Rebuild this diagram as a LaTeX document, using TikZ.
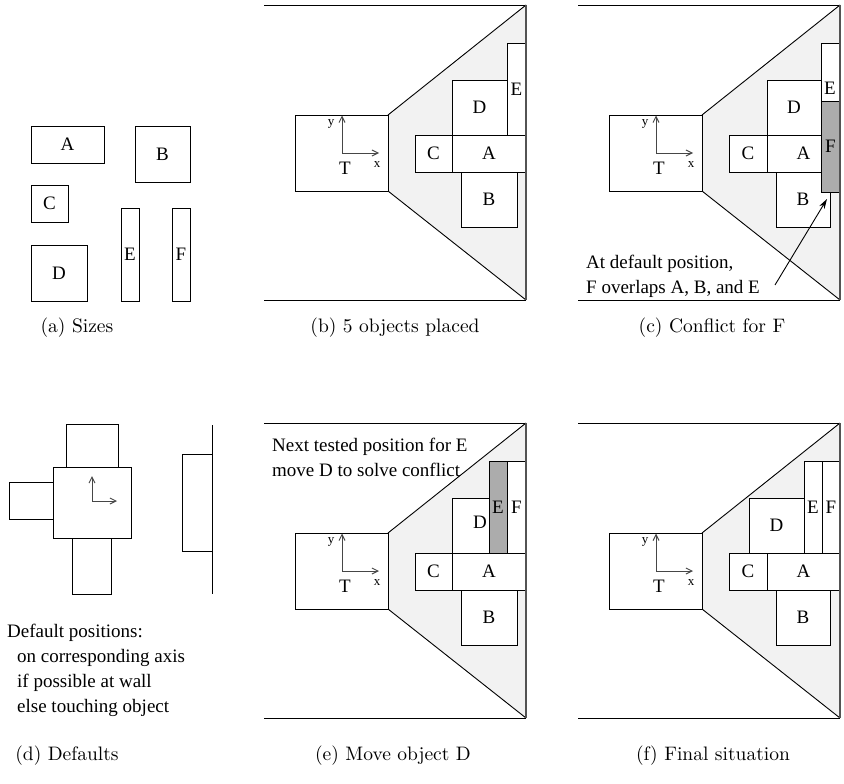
\documentclass[tikz,border=0pt]{standalone}
\usepackage{fontspec}
\newfontfamily\tms{Liberation Serif}
\newfontfamily\capfont{lmroman10-regular.otf}
\usetikzlibrary{arrows.meta}
\tikzset{
  objbox/.style={draw=black,line width=0.9pt,inner sep=0pt,outer sep=0pt,fill=white,
    font=\tms\fontsize{19}{22}\selectfont},
  conflict/.style={fill=gray!65},
  wall/.style={draw=gray!65!black,line width=1.5pt},
  room/.style={draw=black,line width=0.9pt},
  viewcone/.style={fill=gray!10},
  axis/.style={draw=gray!55!black,line width=1pt,-{Straight Barb[length=6pt,width=6pt]}},
  smalllab/.style={font=\tms\fontsize{13}{15}\selectfont,inner sep=0pt},
  biglab/.style={font=\tms\fontsize{19}{22}\selectfont,inner sep=0pt},
  note/.style={font=\tms\fontsize{19}{25}\selectfont,inner sep=0pt,anchor=base west},
  pointer/.style={draw=black,line width=0.9pt,-{Stealth[length=10pt,width=6pt]}},
  caption/.style={font=\capfont\fontsize{19.5}{23}\selectfont,inner sep=0pt,anchor=base},
}
% \obj[style]{name}{x1}{y1}{x2}{y2}{label}
\newcommand\obj[7][]{\node[objbox,#1,minimum width={(#5-#3)*1pt},minimum height={(#6-#4)*1pt}] (#2) at ({(#3+#5)/2},{(#4+#6)/2}) {#7};}
% room with sensor T, local coordinates of panel (b)
\newcommand\roomscene[1]{%
  \fill[viewcone] (388,115) -- (526,5) -- (526,300) -- (388,191) -- cycle;
  \coordinate (#1tl) at (264,5);
  \coordinate (#1tr) at (526,5);
  \coordinate (#1bl) at (264,300);
  \coordinate (#1br) at (526,300);
  \obj{#1T}{295}{115}{388}{191}{}
  \draw[room] (#1tl) -- (#1tr) (#1bl) -- (#1br);
  \draw[room] (#1T.north east) -- (#1tr) (#1T.south east) -- (#1br);
  \coordinate (#1o) at (342,153);
  \coordinate (#1yt) at (342,115.5);
  \coordinate (#1xt) at (379,153);
  \draw[axis] (#1o) -- (#1yt);
  \draw[axis] (#1o) -- (#1xt);
  \node[smalllab] (#1ylab) at (331,124) {y};
  \node[smalllab] (#1xlab) at (377,164.5) {x};
  \node[biglab] (#1Tlab) at (345,168) {T};
}
\newcommand\roomwall[1]{\draw[wall] (#1tr) -- (#1br);}
\begin{document}
\begin{tikzpicture}[x=1pt,y=-1pt]
\useasboundingbox (0,0) rectangle (844,784);
\fill[white] (0,0) rectangle (844,784);

% (a) sizes
\obj{aA}{31}{126}{104}{163}{A}
\obj{aB}{135}{126}{190}{182}{B}
\obj{aC}{31}{185}{68}{222}{C}
\obj{aD}{31}{245}{87}{301}{D}
\obj{aE}{121}{208}{139}{301}{E}
\obj{aF}{172}{208}{190}{301}{F}
\node[caption] (capa) at (77,332) {(a) Sizes};

% (b) 5 objects placed
\begin{scope}
  \roomscene{b}
  \obj{bC}{415}{135}{452}{172}{C}
  \obj{bA}{452}{135}{526}{172}{A}
  \obj{bD}{452}{80}{507}{135}{D}
  \obj{bE}{507}{43}{526}{135}{E}
  \obj{bB}{461}{172}{517}{227}{B}
  \roomwall{b}
\end{scope}
\node[caption] (capb) at (395,332) {(b) 5 objects placed};

% (c) conflict for F
\begin{scope}[shift={(314,0)}]
  \roomscene{c}
  \obj{cC}{415}{135}{453}{172}{C}
  \obj{cA}{453}{135}{526}{172}{A}
  \obj{cD}{453}{80}{507}{135}{D}
  \obj{cB}{462}{172}{516}{227}{B}
  \obj{cE}{507}{43}{526}{135}{}
  \node[biglab] (cElab) at (516,88) {E};
  \obj[conflict]{cF}{507}{101}{526}{192}{F}
  \roomwall{c}
  \node[note] (cnote1) at (272,268) {At default position,};
  \node[note] (cnote2) at (272,293) {F overlaps A, B, and E};
  \coordinate (ctail) at (461,285);
  \coordinate (ctip) at (513,199);
  \draw[pointer] (ctail) -- (ctip);
\end{scope}
\node[caption] (capc) at (712,332) {(c) Conflict for F};

% (d) defaults
\obj{dM}{53}{467}{131}{538}{}
\obj{dN}{66}{424}{118}{467}{}
\obj{dW}{9}{482}{53}{519}{}
\obj{dS}{72}{538}{111}{594}{}
\coordinate (do) at (92,501);
\coordinate (dyt) at (92,476);
\coordinate (dxt) at (117,501);
\draw[axis] (do) -- (dyt);
\draw[axis] (do) -- (dxt);
\obj{dR}{182}{454}{212}{551}{}
\coordinate (dwt) at (212,425);
\coordinate (dwb) at (212,594);
\draw[room] (dwt) -- (dwb);
\node[note] (dn1) at (7,637) {Default positions:};
\node[note] (dn2) at (17,662) {on corresponding axis};
\node[note] (dn3) at (17,687) {if possible at wall};
\node[note] (dn4) at (17,712) {else touching object};
\node[caption] (capd) at (67,760) {(d) Defaults};

% (e) move object D
\begin{scope}[shift={(0,418)}]
  \roomscene{e}
  \obj{eC}{415}{135}{452}{172}{C}
  \obj{eA}{452}{135}{526}{172}{A}
  \obj{eD}{452}{80}{507}{135}{}
  \node[biglab] (eDlab) at (480,104) {D};
  \obj[conflict]{eE}{489}{43}{507}{135}{E}
  \obj{eF}{507}{43}{526}{135}{F}
  \obj{eB}{461}{172}{517}{227}{B}
  \roomwall{e}
  \node[note] (en1) at (272,33.7) {Next tested position for E};
  \node[note] (en2) at (272,58) {move D to solve conflict};
\end{scope}
\node[caption] (cape) at (393,760) {(e) Move object D};

% (f) final situation
\begin{scope}[shift={(314,418)}]
  \roomscene{f}
  \obj{fC}{415}{135}{453}{172}{C}
  \obj{fA}{453}{135}{526}{172}{A}
  \obj{fD}{435}{80}{490}{135}{D}
  \obj{fE}{490}{43}{508}{135}{E}
  \obj{fF}{508}{43}{526}{135}{F}
  \obj{fB}{462}{172}{516}{227}{B}
  \roomwall{f}
\end{scope}
\node[caption] (capf) at (713,760) {(f) Final situation};
\end{tikzpicture}
\end{document}
